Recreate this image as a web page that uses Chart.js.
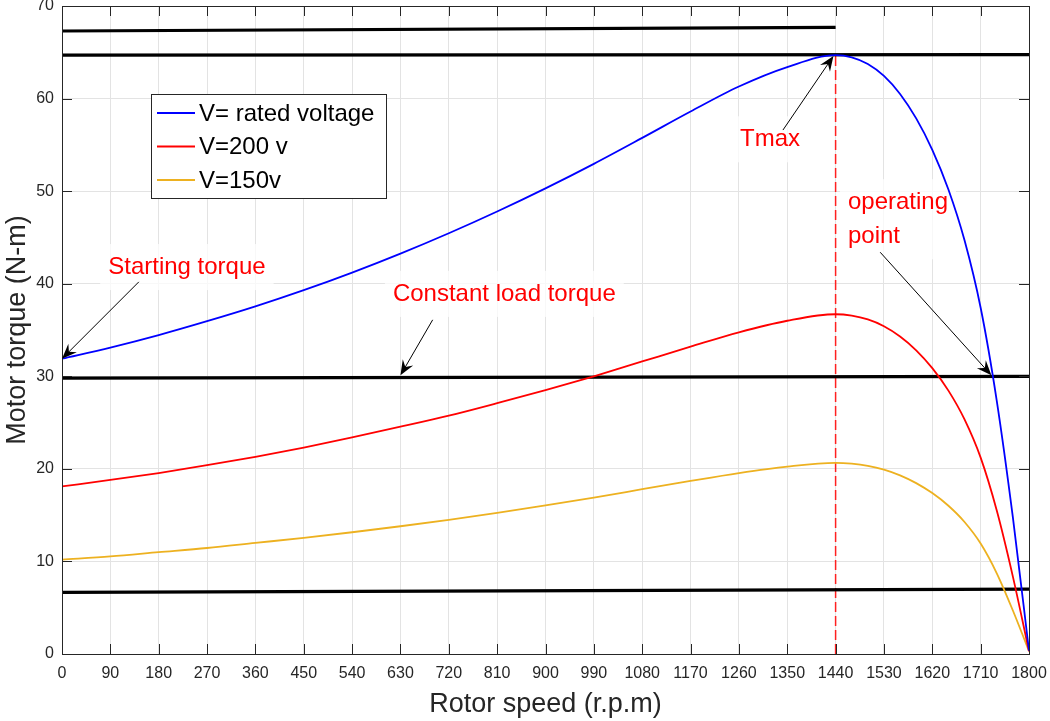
<!DOCTYPE html>
<html>
<head>
<meta charset="utf-8">
<script src="https://cdn.jsdelivr.net/npm/chart.js@4.4.1/dist/chart.umd.min.js"></script>
<style>
  html, body { margin: 0; padding: 0; background: #fff; }
  #wrap { width: 1050px; height: 721px; }
</style>
</head>
<body>
<div id="wrap"><canvas id="chart" width="1050" height="721"></canvas></div>
<script>
// rotor speed samples (r.p.m)
const speed = [0, 90, 180, 270, 360, 450, 540, 630, 720, 810, 900, 990, 1080, 1170, 1260, 1350, 1440,
               1470, 1500, 1530, 1560, 1590, 1620, 1650, 1680, 1710, 1740, 1770, 1800];
// motor torque (N-m)
const torqueRated = [31.9, 33.1, 34.45, 35.95, 37.55, 39.3, 41.2, 43.25, 45.45, 47.8, 50.3, 52.95, 55.75, 58.6, 61.3, 63.4, 64.7,
                     64.46, 63.74, 62.45, 60.5, 57.86, 54.47, 50.18, 44.69, 37.4, 27.35, 14.75, 0.35];
const torque200 = [18.1, 18.8, 19.55, 20.4, 21.3, 22.3, 23.4, 24.55, 25.75, 27.1, 28.5, 30.0, 31.6, 33.2, 34.75, 36.0, 36.7,
                   36.55, 36.14, 35.41, 34.3, 32.81, 30.88, 28.45, 25.34, 21.21, 15.5, 8.36, 0.3];
const torque150 = [10.2, 10.55, 11.0, 11.45, 12.0, 12.55, 13.15, 13.8, 14.5, 15.25, 16.05, 16.9, 17.8, 18.7, 19.55, 20.25, 20.65,
                   20.56, 20.33, 19.92, 19.3, 18.46, 17.38, 16.01, 14.26, 11.93, 8.72, 4.7, 0.3];
const seriesLabels = ['V= rated voltage', 'V=200 v', 'V=150v'];

// black reference lines: [x start, x end] and [y start, y end]
const upperLineX = [0, 1440],  upperLineY = [67.3, 67.7];
const tmaxLineX = [0, 1800],   tmaxLineY = [64.7, 64.75];
const loadLineX = [0, 1800],   loadLineY = [29.8, 30.0];
const lowerLineX = [0, 1800],  lowerLineY = [6.65, 7.0];
// red dashed marker at the max torque speed
const tmaxMarkX = [1440, 1440], tmaxMarkY = [0, 64.7];

// tick labels
const speedTicks = [0, 90, 180, 270, 360, 450, 540, 630, 720, 810, 900, 990, 1080, 1170, 1260, 1350, 1440, 1530, 1620, 1710, 1800];
const torqueTicks = [0, 10, 20, 30, 40, 50, 60, 70];

const FONT = "'Liberation Sans', Arial, sans-serif";

function pts(xs, ys) {
    return xs.map((x, i) => ({ x: x, y: ys[i] }));
}

function curve(label, ys, color) {
    return {
        label: label,
        data: pts(speed, ys),
        borderColor: color,
        borderWidth: 1.8,
        pointRadius: 0,
        fill: false,
        cubicInterpolationMode: 'monotone'
    };
}

function refLine(xs, ys) {
    return {
        label: '',
        data: pts(xs, ys),
        borderColor: '#000',
        borderWidth: 3.2,
        pointRadius: 0,
        fill: false
    };
}

// text labels and arrows, in data units
const notes = [
    { text: ['Starting torque'], x: 86, y: 41.8, arrow: [143, 40.2, 0, 31.9] },
    { text: ['Constant load torque'], x: 616, y: 38.9, arrow: [690, 36.1, 630, 30.1] },
    { text: ['Tmax'], x: 1262, y: 55.6, arrow: [1342, 56.6, 1436, 64.6] },
    { text: ['operating', 'point'], x: 1463, y: 48.8, arrow: [1523, 43.4, 1730, 30.1] }
];

function drawArrow(ctx, x0, y0, x1, y1) {
    const a = Math.atan2(y1 - y0, x1 - x0);
    const c = Math.cos(a), s = Math.sin(a);
    const len = 15, half = 6;
    ctx.save();
    ctx.strokeStyle = '#000';
    ctx.fillStyle = '#000';
    ctx.lineWidth = 1;
    ctx.beginPath();
    ctx.moveTo(x0, y0);
    ctx.lineTo(x1 - c * len * 0.6, y1 - s * len * 0.6);
    ctx.stroke();
    const bx = x1 - c * len, by = y1 - s * len;
    ctx.beginPath();
    ctx.moveTo(x1, y1);
    ctx.lineTo(bx - s * half, by + c * half);
    ctx.lineTo(x1 - c * len * 0.65, y1 - s * len * 0.65);
    ctx.lineTo(bx + s * half, by - c * half);
    ctx.closePath();
    ctx.fill();
    ctx.restore();
}

// frame, inward ticks, text boxes, arrows and legend
const decorations = {
    id: 'decorations',
    beforeDatasetsDraw(chart) {
        const ctx = chart.ctx, xs = chart.scales.x, ys = chart.scales.y;
        ctx.save();
        ctx.font = '24px ' + FONT;
        notes.forEach(n => {
            const px = xs.getPixelForValue(n.x), py = ys.getPixelForValue(n.y);
            const w = Math.max(...n.text.map(t => ctx.measureText(t).width));
            const h = 34 * n.text.length;
            ctx.fillStyle = 'rgba(255,255,255,0.75)';
            ctx.fillRect(px - 8, py - 17 - 6, w + 16, h + 12);
        });
        ctx.restore();
    },
    afterDatasetsDraw(chart) {
        const ctx = chart.ctx, xs = chart.scales.x, ys = chart.scales.y;
        const a = chart.chartArea;
        ctx.save();
        // box and inward ticks
        ctx.strokeStyle = '#262626';
        ctx.lineWidth = 1;
        ctx.strokeRect(Math.round(a.left) + 0.5, Math.round(a.top) + 0.5,
                       Math.round(a.right - a.left), Math.round(a.bottom - a.top));
        ctx.beginPath();
        speedTicks.forEach(v => {
            const p = Math.round(xs.getPixelForValue(v)) + 0.5;
            ctx.moveTo(p, a.bottom); ctx.lineTo(p, a.bottom - 10);
            ctx.moveTo(p, a.top); ctx.lineTo(p, a.top + 10);
        });
        torqueTicks.forEach(v => {
            const p = Math.round(ys.getPixelForValue(v)) + 0.5;
            ctx.moveTo(a.left, p); ctx.lineTo(a.left + 10, p);
            ctx.moveTo(a.right, p); ctx.lineTo(a.right - 10, p);
        });
        ctx.stroke();

        // annotations
        ctx.font = '24px ' + FONT;
        ctx.fillStyle = '#ff0000';
        ctx.textBaseline = 'middle';
        ctx.textAlign = 'left';
        notes.forEach(n => {
            const px = xs.getPixelForValue(n.x), py = ys.getPixelForValue(n.y);
            n.text.forEach((t, i) => ctx.fillText(t, px, py + i * 34));
            const r = n.arrow;
            drawArrow(ctx, xs.getPixelForValue(r[0]), ys.getPixelForValue(r[1]),
                      xs.getPixelForValue(r[2]), ys.getPixelForValue(r[3]));
        });

        // legend box
        const lx = a.left + 89, ly = a.top + 88, lw = 235, lh = 104;
        ctx.fillStyle = '#fff';
        ctx.fillRect(lx, ly, lw, lh);
        ctx.strokeStyle = '#262626';
        ctx.strokeRect(lx + 0.5, ly + 0.5, lw, lh);
        ctx.fillStyle = '#000';
        ctx.font = '24px ' + FONT;
        chart.data.datasets.slice(0, 3).forEach((d, i) => {
            const cy = ly + 19 + i * 33.5;
            ctx.strokeStyle = d.borderColor;
            ctx.lineWidth = 1.8;
            ctx.beginPath();
            ctx.moveTo(lx + 6, cy); ctx.lineTo(lx + 44, cy);
            ctx.stroke();
            ctx.fillText(d.label, lx + 48, cy + 1);
        });
        ctx.restore();
    }
};

const ctx = document.getElementById('chart').getContext('2d');
const chart = new Chart(ctx, {
    type: 'line',
    data: {
        datasets: [
            curve(seriesLabels[0], torqueRated, '#0000ff'),
            curve(seriesLabels[1], torque200, '#ff0000'),
            curve(seriesLabels[2], torque150, '#EDB120'),
            refLine(upperLineX, upperLineY),
            refLine(tmaxLineX, tmaxLineY),
            refLine(loadLineX, loadLineY),
            refLine(lowerLineX, lowerLineY),
            {
                label: '',
                data: pts(tmaxMarkX, tmaxMarkY),
                borderColor: '#ff2020',
                borderWidth: 1.5,
                borderDash: [10, 4],
                pointRadius: 0,
                fill: false
            }
        ]
    },
    options: {
        responsive: false,
        animation: false,
        layout: { padding: { top: 6, right: 21, left: 0, bottom: 0 } },
        plugins: {
            legend: { display: false },
            tooltip: { enabled: false }
        },
        scales: {
            x: {
                type: 'linear',
                min: 0,
                max: 1800,
                afterBuildTicks: s => { s.ticks = speedTicks.map(v => ({ value: v })); },
                afterFit: s => { s.height = 67; s.paddingLeft = 0; s.paddingRight = 0; },
                ticks: {
                    autoSkip: false,
                    maxRotation: 0,
                    padding: 10,
                    color: '#262626',
                    font: { family: FONT, size: 16 },
                    callback: v => String(v)
                },
                grid: { color: '#e3e3e3', drawTicks: false },
                border: { display: false },
                title: {
                    display: true,
                    text: 'Rotor speed (r.p.m)',
                    color: '#262626',
                    font: { family: FONT, size: 27 },
                    padding: { top: 0, bottom: 0 }
                }
            },
            y: {
                type: 'linear',
                min: 0,
                max: 70,
                afterBuildTicks: s => { s.ticks = torqueTicks.map(v => ({ value: v })); },
                afterFit: s => { s.width = 62; s.paddingTop = 0; s.paddingBottom = 0; },
                ticks: {
                    padding: 8,
                    color: '#262626',
                    font: { family: FONT, size: 16 },
                    callback: v => String(v)
                },
                grid: { color: '#e3e3e3', drawTicks: false },
                border: { display: false },
                title: {
                    display: true,
                    text: 'Motor torque (N-m)',
                    color: '#262626',
                    font: { family: FONT, size: 27 },
                    padding: { top: 1, bottom: 0 }
                }
            }
        }
    },
    plugins: [decorations]
});
</script>
</body>
</html>
